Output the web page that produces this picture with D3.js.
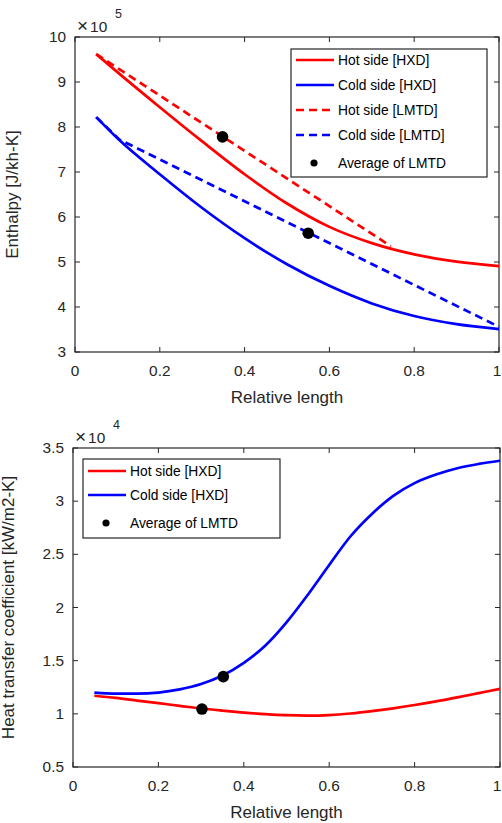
<!DOCTYPE html>
<html>
<head>
<meta charset="utf-8">
<script src="https://cdn.jsdelivr.net/npm/d3@7"></script>
<style>
    body { margin: 0; background: #fff; }
    svg { display: block; font-family: "Liberation Sans", Arial, sans-serif; }
    .tick-label { fill: #262626; font-size: 15.4px; }
    .axis-title { fill: #262626; font-size: 17px; }
    .legend-text { fill: #000; font-size: 13.8px; }
</style>
</head>
<body>
<script>
// --- Top panel: enthalpy (x 1e5 J/kh-K) vs relative length
const hxdX     = [0.05, 0.1, 0.2, 0.3, 0.4, 0.5, 0.6, 0.7, 0.8, 0.9, 1.0];
const hotHxdH  = [9.62, 9.22, 8.44, 7.68, 6.95, 6.3, 5.78, 5.42, 5.17, 5.01, 4.91];
const coldHxdH = [8.22, 7.75, 6.95, 6.2, 5.53, 4.95, 4.47, 4.08, 3.8, 3.62, 3.51];
const hotLmtdX  = [0.05, 0.745];
const hotLmtdH  = [9.62, 5.35];
const coldLmtdX = [0.05, 0.105, 1.0];
const coldLmtdH = [8.22, 7.72, 3.56];
const avgLmtdX  = [0.348, 0.55];
const avgLmtdH  = [7.78, 5.64];

// --- Bottom panel: heat transfer coefficient (x 1e4 kW/m2-K)
const relLen  = [0.05, 0.1, 0.15, 0.2, 0.25, 0.3, 0.35, 0.4, 0.45, 0.5,
                 0.55, 0.6, 0.65, 0.7, 0.75, 0.8, 0.85, 0.9, 0.95, 1.0];
const hotHtc  = [1.17, 1.15, 1.125, 1.10, 1.075, 1.05, 1.03, 1.012, 0.997, 0.987,
                 0.983, 0.988, 1.003, 1.025, 1.052, 1.083, 1.117, 1.155, 1.195, 1.235];
const coldHtc = [1.20, 1.19, 1.19, 1.20, 1.23, 1.28, 1.36, 1.48, 1.64, 1.86,
                 2.12, 2.40, 2.67, 2.88, 3.05, 3.17, 3.25, 3.31, 3.35, 3.38];
const avgHtcX = [0.302, 0.352];
const avgHtcV = [1.045, 1.35];

const xTicks = [0, 0.2, 0.4, 0.6, 0.8, 1];
const enthalpyTicks = [3, 4, 5, 6, 7, 8, 9, 10];
const htcTicks = [0.5, 1, 1.5, 2, 2.5, 3, 3.5];

const RED = '#ff0000', BLUE = '#0000ff', AXIS = '#262626';

const svg = d3.select('body').append('svg')
    .attr('width', 502)
    .attr('height', 823);

function zip(xs, ys) {
    return xs.map((x, i) => [x, ys[i]]);
}

// draws one MATLAB-like boxed axes and returns its scales
function drawPanel(cfg) {
    let x = d3.scaleLinear().domain([0, 1]).range([cfg.left, cfg.right]);
    let y = d3.scaleLinear().domain(cfg.yDomain).range([cfg.bottom, cfg.top]);
    let g = svg.append('g');

    let tickLen = 5;
    let fmt = d3.format('~g');

    // ticks (inward, on all four sides)
    let ticks = g.append('g').attr('stroke', AXIS).attr('stroke-width', 1);
    xTicks.forEach(t => {
        ticks.append('line').attr('x1', x(t)).attr('x2', x(t))
            .attr('y1', cfg.bottom).attr('y2', cfg.bottom - tickLen);
        ticks.append('line').attr('x1', x(t)).attr('x2', x(t))
            .attr('y1', cfg.top).attr('y2', cfg.top + tickLen);
    });
    cfg.yTicks.forEach(t => {
        ticks.append('line').attr('x1', cfg.left).attr('x2', cfg.left + tickLen)
            .attr('y1', y(t)).attr('y2', y(t));
        ticks.append('line').attr('x1', cfg.right).attr('x2', cfg.right - tickLen)
            .attr('y1', y(t)).attr('y2', y(t));
    });

    g.selectAll('text.xt').data(xTicks).enter().append('text')
        .attr('class', 'tick-label')
        .attr('x', d => Math.min(x(d), 497))
        .attr('y', cfg.bottom + 24)
        .attr('text-anchor', 'middle')
        .text(d => fmt(d));

    g.selectAll('text.yt').data(cfg.yTicks).enter().append('text')
        .attr('class', 'tick-label')
        .attr('x', cfg.left - 9)
        .attr('y', d => y(d) + 5)
        .attr('text-anchor', 'end')
        .text(d => fmt(d));

    // exponent label
    let ex = g.append('text').attr('class', 'tick-label')
        .attr('x', cfg.left + 2).attr('y', cfg.top - 5);
    ex.append('tspan').style('font-size', '19px').text('\u00d7');
    ex.append('tspan').attr('dx', 2).text('10');
    g.append('text').attr('class', 'tick-label')
        .style('font-size', '12.5px')
        .attr('x', cfg.left + 40).attr('y', cfg.top - 19)
        .text(cfg.exponent);

    g.append('text').attr('class', 'axis-title')
        .attr('x', (cfg.left + cfg.right) / 2)
        .attr('y', cfg.bottom + 51)
        .attr('text-anchor', 'middle')
        .text('Relative length');

    g.append('text').attr('class', 'axis-title')
        .attr('transform', 'translate(' + cfg.yTitleX + ',' + ((cfg.top + cfg.bottom) / 2) + ') rotate(-90)')
        .attr('text-anchor', 'middle')
        .text(cfg.yTitle);

    g.append('rect')
        .attr('x', cfg.left).attr('y', cfg.top)
        .attr('width', cfg.right - cfg.left).attr('height', cfg.bottom - cfg.top)
        .attr('fill', 'none').attr('stroke', AXIS).attr('stroke-width', 1.2);

    return {x, y, g};
}

function drawLine(p, pts, color, dashed) {
    // HXD profiles are smooth; LMTD lines are straight segments
    let line = d3.line().x(d => p.x(d[0])).y(d => p.y(d[1]))
        .curve(dashed ? d3.curveLinear : d3.curveMonotoneX);
    p.g.append('path')
        .datum(pts)
        .attr('d', line)
        .attr('fill', 'none')
        .attr('stroke', color)
        .attr('stroke-width', 2.7)
        .attr('stroke-dasharray', dashed ? '8,5' : null);
}

function drawDots(p, pts) {
    p.g.selectAll('circle.avg').data(pts).enter().append('circle')
        .attr('cx', d => p.x(d[0]))
        .attr('cy', d => p.y(d[1]))
        .attr('r', 5.8)
        .attr('fill', '#000');
}

function drawLegend(box, entries) {
    let g = svg.append('g');
    g.append('rect')
        .attr('x', box.x).attr('y', box.y)
        .attr('width', box.w).attr('height', box.h)
        .attr('fill', '#fff').attr('stroke', AXIS).attr('stroke-width', 1.2);
    entries.forEach((e, i) => {
        let cy = box.y + box.first + i * box.step + (e.type === 'dot' ? box.dotShift : 0);
        if (e.type === 'dot') {
            g.append('circle').attr('cx', box.x + 23).attr('cy', cy).attr('r', 3.6).attr('fill', '#000');
        } else {
            g.append('line')
                .attr('x1', box.x + 5).attr('x2', box.x + 43)
                .attr('y1', cy).attr('y2', cy)
                .attr('stroke', e.color).attr('stroke-width', 2.7)
                .attr('stroke-dasharray', e.type === 'dash' ? '8,5' : null);
        }
        g.append('text').attr('class', 'legend-text')
            .attr('x', box.x + 47).attr('y', cy + 5)
            .text(e.label);
    });
}

// Top panel
let enthalpyPanel = drawPanel({
    left: 75, right: 499, top: 37, bottom: 352,
    yDomain: [3, 10], yTicks: enthalpyTicks, exponent: '5',
    yTitle: 'Enthalpy [J/kh-K]', yTitleX: 18
});
drawLine(enthalpyPanel, zip(hxdX, hotHxdH), RED, false);
drawLine(enthalpyPanel, zip(hxdX, coldHxdH), BLUE, false);
drawLine(enthalpyPanel, zip(hotLmtdX, hotLmtdH), RED, true);
drawLine(enthalpyPanel, zip(coldLmtdX, coldLmtdH), BLUE, true);
drawDots(enthalpyPanel, zip(avgLmtdX, avgLmtdH));

drawLegend({x: 291, y: 49, w: 196, h: 128, first: 11, step: 25, dotShift: 3}, [
    {type: 'line', color: RED, label: 'Hot side [HXD]'},
    {type: 'line', color: BLUE, label: 'Cold side [HXD]'},
    {type: 'dash', color: RED, label: 'Hot side [LMTD]'},
    {type: 'dash', color: BLUE, label: 'Cold side [LMTD]'},
    {type: 'dot', label: 'Average of LMTD'}
]);

// Bottom panel
let htcPanel = drawPanel({
    left: 73, right: 500, top: 448, bottom: 767,
    yDomain: [0.5, 3.5], yTicks: htcTicks, exponent: '4',
    yTitle: 'Heat transfer coefficient [kW/m2-K]', yTitleX: 14
});
drawLine(htcPanel, zip(relLen, hotHtc), RED, false);
drawLine(htcPanel, zip(relLen, coldHtc), BLUE, false);
drawDots(htcPanel, zip(avgHtcX, avgHtcV));

drawLegend({x: 83, y: 459, w: 197, h: 79, first: 12, step: 24, dotShift: 4}, [
    {type: 'line', color: RED, label: 'Hot side [HXD]'},
    {type: 'line', color: BLUE, label: 'Cold side [HXD]'},
    {type: 'dot', label: 'Average of LMTD'}
]);
</script>
</body>
</html>
